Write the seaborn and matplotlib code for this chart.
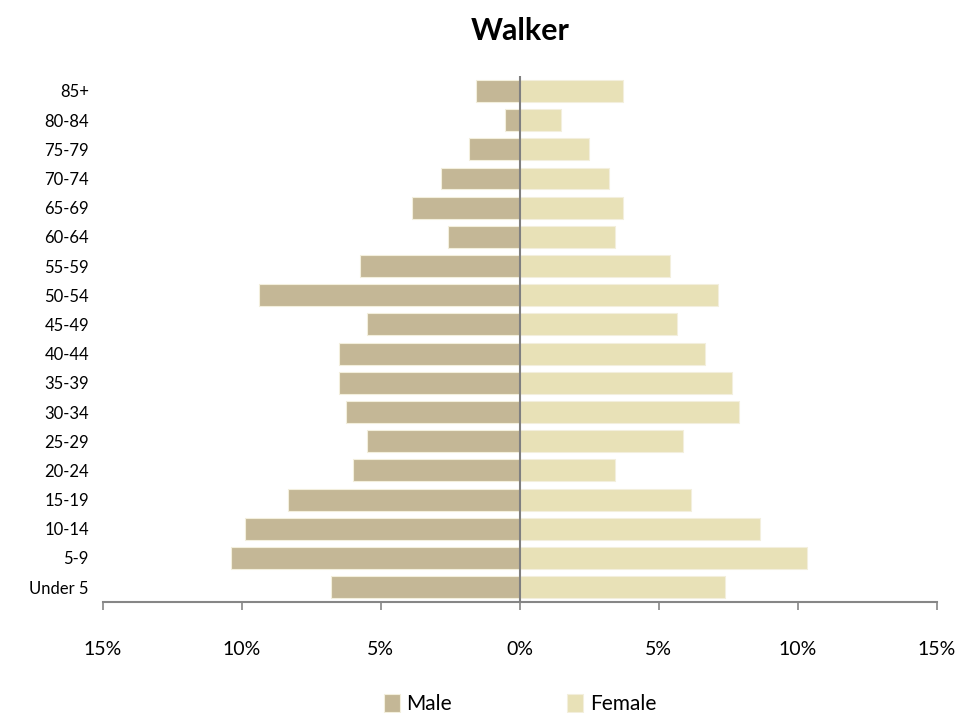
import pandas as pd
import numpy as np
import matplotlib.pyplot as plt
import seaborn as sns

# Age groups, top to bottom as drawn
age_groups = ['85+', '80-84', '75-79', '70-74', '65-69', '60-64', '55-59', '50-54', '45-49',
              '40-44', '35-39', '30-34', '25-29', '20-24', '15-19', '10-14', '5-9', 'Under 5']

# Share of population (%)
male_pct = [1.57, 0.53, 1.82, 2.85, 3.88, 2.60, 5.74, 9.38, 5.49,
            6.52, 6.52, 6.26, 5.49, 6.00, 8.33, 9.88, 10.40, 6.79]
female_pct = [3.70, 1.49, 2.47, 3.19, 3.70, 3.44, 5.41, 7.12, 5.67,
              6.65, 7.64, 7.89, 5.87, 3.44, 6.14, 8.62, 10.31, 7.37]

tick_vals = [-15, -10, -5, 0, 5, 10, 15]

male_color = '#C4B796'
female_color = '#E8E1B7'

df = pd.concat([
    pd.DataFrame({'age': age_groups, 'sex': 'Male', 'value': -np.array(male_pct)}),
    pd.DataFrame({'age': age_groups, 'sex': 'Female', 'value': np.array(female_pct)}),
], ignore_index=True)

sns.set_theme(style='white')
plt.rcParams['font.family'] = ['Lato', 'DejaVu Sans']
plt.rcParams['text.color'] = 'black'
plt.rcParams['xtick.color'] = 'black'
plt.rcParams['ytick.color'] = 'black'

fig, ax = plt.subplots(figsize=(9.79, 7.13), dpi=100)
fig.subplots_adjust(left=0.105, right=0.957, top=0.893, bottom=0.156)

sns.barplot(data=df, y='age', x='value', hue='sex', order=age_groups,
            hue_order=['Male', 'Female'], palette=[male_color, female_color],
            dodge=False, width=0.75, orient='h', ax=ax, saturation=1,
            edgecolor='#F3EFDD', linewidth=0.8, legend=True)

ax.set_xlim(-15, 15)
ax.set_xticks(tick_vals)
ax.set_xticklabels(['%d%%' % abs(v) for v in tick_vals])
ax.set_xlabel('')
ax.set_ylabel('')

ax.axvline(0, color='#808080', linewidth=1.5, zorder=5)

for side in ['left', 'right', 'top']:
    ax.spines[side].set_visible(False)
ax.spines['bottom'].set_color('#868686')
ax.spines['bottom'].set_linewidth(1.5)

ax.tick_params(axis='x', which='both', bottom=True, direction='out', length=6,
               width=1.2, color='#868686', pad=22, labelsize=14)
ax.tick_params(axis='y', left=False, labelsize=12, pad=4)

ax.set_title('Walker', fontsize=22, fontweight='bold', pad=26)

leg = ax.legend(loc='upper center', bbox_to_anchor=(0.5, -0.14), ncol=2, frameon=False,
                fontsize=15, handlelength=0.8, handleheight=0.9, handletextpad=0.3,
                columnspacing=5.5)

plt.savefig('out.png', dpi=100)
